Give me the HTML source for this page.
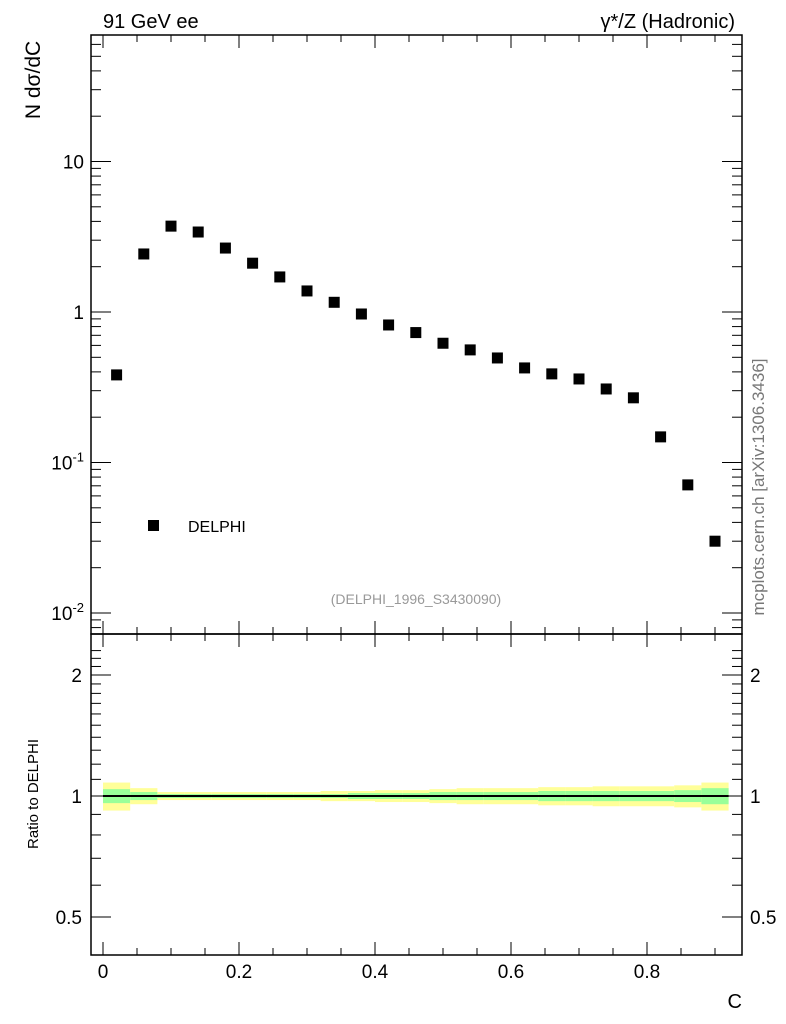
<!DOCTYPE html>
<html><head><meta charset="utf-8"><style>
body{margin:0;background:#fff}
svg{display:block;font-family:"Liberation Sans",sans-serif}
</style></head><body>
<svg id="c" width="786" height="1024" viewBox="0 0 786 1024" xmlns="http://www.w3.org/2000/svg">
<rect width="786" height="1024" fill="#fff"/>
<text x="103" y="28" font-size="20">91 GeV ee</text>
<text x="735" y="28" font-size="20" text-anchor="end">γ*/Z (Hadronic)</text>
<text transform="translate(40,80) rotate(-90)" font-size="21" text-anchor="middle">N dσ/dC</text>
<text transform="translate(38,794) rotate(-90)" font-size="15" text-anchor="middle">Ratio to DELPHI</text>
<text x="742" y="1008" font-size="20" text-anchor="end">C</text>
<text transform="translate(764,487) rotate(-90)" font-size="17" fill="#777" text-anchor="middle">mcplots.cern.ch [arXiv:1306.3436]</text>
<text x="416" y="604" font-size="14" fill="#999" text-anchor="middle">(DELPHI_1996_S3430090)</text>
<rect x="148" y="520" width="11" height="11" fill="#000"/>
<text x="188" y="532" font-size="16">DELPHI</text>
<g id="g"></g>
</svg>
<script>
const binLo=[0,0.04,0.08,0.12,0.16,0.20,0.24,0.28,0.32,0.36,0.40,0.44,0.48,0.52,0.56,0.60,0.64,0.68,0.72,0.76,0.80,0.84,0.88];
const values=[0.382,2.43,3.72,3.40,2.66,2.11,1.71,1.38,1.16,0.97,0.82,0.73,0.62,0.56,0.495,0.425,0.388,0.359,0.308,0.269,0.148,0.071,0.030];
const errTotal=[0.08,0.046,0.023,0.023,0.023,0.023,0.023,0.023,0.029,0.029,0.034,0.034,0.04,0.046,0.046,0.046,0.052,0.052,0.057,0.057,0.057,0.063,0.08];
const errStat=[0.04,0.023,0.011,0.011,0.011,0.011,0.011,0.011,0.011,0.017,0.017,0.017,0.023,0.023,0.023,0.023,0.029,0.029,0.029,0.029,0.029,0.034,0.046];
const xTicks=[0,0.2,0.4,0.6,0.8];
const xTickLabels=["0","0.2","0.4","0.6","0.8"];
const yTicks=[10,1,0.1,0.01];
const ratioTicks=[2,1,0.5];
const binW=0.04;
const NS="http://www.w3.org/2000/svg";
const g=document.getElementById('g');
const L=91,R=742,T=35,MB=634,B=955;
const X=v=>103+v*(239-103)/0.2;
const Y=v=>312-Math.log10(v)*150.5;
const YR=v=>796-Math.log10(v)*402;
function mk(t,a,p){const e=document.createElementNS(NS,t);for(const k in a)e.setAttribute(k,a[k]);(p||g).appendChild(e);return e;}
for(let i=0;i<binLo.length;i++){
 const x0=X(binLo[i]),x1=X(binLo[i]+binW);
 const y=mk('rect',{x:x0,y:YR(1+errTotal[i]),width:x1-x0,height:YR(1-errTotal[i])-YR(1+errTotal[i]),fill:'#ffff99'});
 
 
 const gr=mk('rect',{x:x0,y:YR(1+errStat[i]),width:x1-x0,height:YR(1-errStat[i])-YR(1+errStat[i]),fill:'#99ff99'});
 
 
}
const rl=mk('line',{x1:X(0),x2:X(0.92),y1:YR(1),y2:YR(1),stroke:'#000','stroke-width':2});


for(const [t,b] of [[T,MB],[MB,B]]){
 const f=mk('rect',{x:L,y:t,width:R-L,height:b-t,fill:'none',stroke:'#000','stroke-width':1.5});
 
 
}
for(let v=0;v<=0.93;v+=0.05){
 const maj=Math.abs(v/0.2-Math.round(v/0.2))<1e-6, len=maj?13:7, x=X(v);
 for(const [t,b] of [[T,MB],[MB,B]]){mk('line',{x1:x,x2:x,y1:t,y2:t+len,stroke:'#000'});mk('line',{x1:x,x2:x,y1:b,y2:b-len,stroke:'#000'});}
}
xTicks.forEach((v,i)=>{const t=mk('text',{x:X(v),y:978,'font-size':19,'text-anchor':'middle'});t.textContent=xTickLabels[i];
 
 });
for(let d=-3;d<=1;d++)for(let m=1;m<=9;m++){const v=m*Math.pow(10,d),y=Y(v);if(y<T||y>MB)continue;const len=m==1?20:10;
 mk('line',{x1:L,x2:L+len,y1:y,y2:y,stroke:'#000'});mk('line',{x1:R,x2:R-len,y1:y,y2:y,stroke:'#000'});}
yTicks.forEach(v=>{const y=Y(v);const t=mk('text',{x:84,y:y+7,'font-size':19,'text-anchor':'end'});
 if(v>=1)t.textContent=String(v);else{t.textContent='10';const s=mk('tspan',{dy:-8,'font-size':13},t);s.textContent=String(Math.round(Math.log10(v)));}
 
 });
for(let v=0.3;v<=2.4;v+=0.1){const y=YR(v);if(y<MB||y>B)continue;const maj=[0.5,1,2].some(a=>Math.abs(a-v)<1e-6);const len=maj?20:10;
 mk('line',{x1:L,x2:L+len,y1:y,y2:y,stroke:'#000'});mk('line',{x1:R,x2:R-len,y1:y,y2:y,stroke:'#000'});}
ratioTicks.forEach(v=>{for(const [x,a] of [[82,'end'],[750,'start']]){const t=mk('text',{x:x,y:YR(v)+7,'font-size':19,'text-anchor':a});t.textContent=String(v);
 
 }});
values.forEach((v,i)=>{const cx=X(binLo[i]+binW/2),cy=Y(v);
 const r=mk('rect',{x:cx-5.5,y:cy-5.5,width:11,height:11,fill:'#000'});
 
 });
</script>
</body></html>
